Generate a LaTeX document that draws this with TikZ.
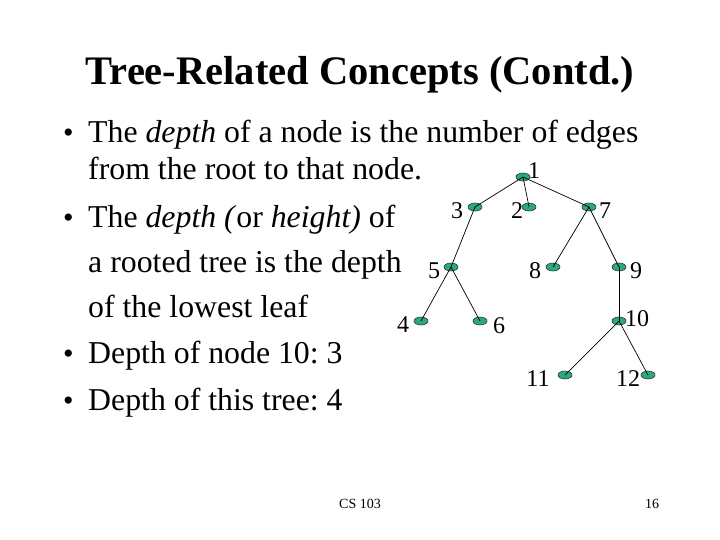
\documentclass[tikz,border=0pt]{standalone}
\usepackage{fontspec}
\setmainfont{Liberation Serif}
\usetikzlibrary{shapes.geometric}
\frenchspacing
\definecolor{nodegreen}{RGB}{40,170,125}
\tikzset{
  tn/.style={ellipse, draw=black!80, line width=0.6pt, fill=nodegreen, minimum width=14pt, minimum height=8pt, inner sep=0pt},
  lbl/.style={font=\fontsize{24}{26}\selectfont, inner sep=0pt},
  edge/.style={line width=0.7pt, black},
  txt/.style={anchor=base west, inner sep=0pt, font=\fontsize{31.8}{34}\selectfont},
  bul/.style={anchor=base west, inner sep=0pt, font=\fontsize{30}{34}\selectfont},
}
\begin{document}
\begin{tikzpicture}[x=1pt,y=-1pt]
\useasboundingbox (0,0) rectangle (720,540);
% title
\node[anchor=base, inner sep=0pt, font=\fontsize{40.5}{44}\selectfont\bfseries] (title) at (360,85) {Tree-Related Concepts (Contd.)};
% bullets
\node[bul] (b1) at (63,143) {\textbullet};
\node[txt] (t1) at (88,143) {The \textit{depth} of a node is the number of edges};
\node[txt] (t2) at (88,180) {from the root to that node.};
\node[bul] (b2) at (63,227) {\textbullet};
\node[txt] (t3) at (88,227) {The \textit{depth (}or \textit{height)} of};
\node[txt] (t4) at (88,272) {a rooted tree is the depth};
\node[txt] (t5) at (88,317) {of the lowest leaf};
\node[bul] (b3) at (63,363) {\textbullet};
\node[txt] (t6) at (88,363) {Depth of node 10: 3};
\node[bul] (b4) at (63,410) {\textbullet};
\node[txt] (t7) at (88,410) {Depth of this tree: 4};
% footer
\node[anchor=base, inner sep=0pt, font=\fontsize{14}{15}\selectfont] (f1) at (360,508) {CS 103};
\node[anchor=base, inner sep=0pt, font=\fontsize{14}{15}\selectfont] (f2) at (652,508) {16};
% tree nodes
\node[tn] (n1) at (523,177) {};
\node[tn] (n3) at (475,207) {};
\node[tn] (n2) at (529,207) {};
\node[tn] (n7) at (589,207) {};
\node[tn] (n5) at (451,267) {};
\node[tn] (n8) at (553,267) {};
\node[tn] (n9) at (619,267) {};
\node[tn] (n4) at (421,321) {};
\node[tn] (n6) at (480,321) {};
\node[tn] (n10) at (619,321) {};
\node[tn] (n11) at (565,375) {};
\node[tn] (n12) at (648,375) {};
% edges
\draw[edge] (n1.center) -- (n3.center);
\draw[edge] (n1.center) -- (n2.center);
\draw[edge] (n1.center) -- (n7.center);
\draw[edge] (n3.center) -- (n5.center);
\draw[edge] (n5.center) -- (n4.center);
\draw[edge] (n5.center) -- (n6.center);
\draw[edge] (n7.center) -- (n8.center);
\draw[edge] (n7.center) -- (n9.center);
\draw[edge] (n9.center) -- (n10.center);
\draw[edge] (n10.center) -- (n11.center);
\draw[edge] (n10.center) -- (n12.center);
% labels
\node[lbl] (l1) at (534,171) {1};
\node[lbl] (l3) at (457,211) {3};
\node[lbl] (l2) at (517,211) {2};
\node[lbl] (l7) at (605,211) {7};
\node[lbl] (l5) at (434,271) {5};
\node[lbl] (l8) at (535,271) {8};
\node[lbl] (l9) at (636,271) {9};
\node[lbl] (l4) at (403,325) {4};
\node[lbl] (l6) at (499,326) {6};
\node[lbl] (l10) at (637,319) {10};
\node[lbl] (l11) at (538,379) {11};
\node[lbl] (l12) at (628,379) {12};
\end{tikzpicture}
\end{document}
